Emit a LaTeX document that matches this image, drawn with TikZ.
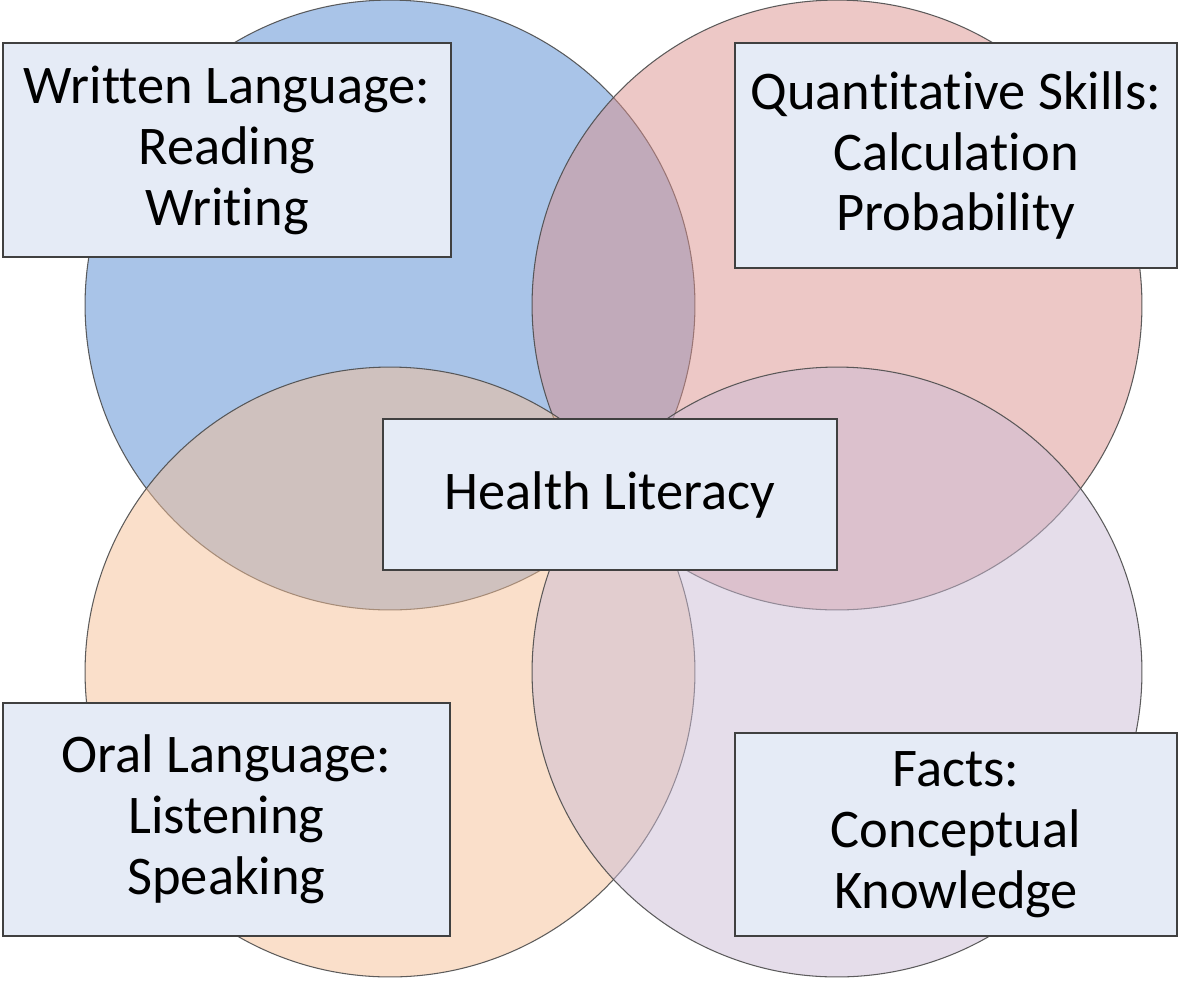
\documentclass[tikz,border=0pt]{standalone}
\usepackage{fontspec}
\setmainfont[Ligatures=NoCommon]{Carlito}

\definecolor{writtenblue}{RGB}{83,137,209}
\definecolor{quantred}{RGB}{219,145,141}
\definecolor{oralorange}{RGB}{245,191,149}
\definecolor{factspurple}{RGB}{203,187,213}
\definecolor{boxfill}{RGB}{229,235,246}

\begin{document}
\begin{tikzpicture}[x=0.02cm,y=-0.02cm,
  ring/.style={draw=black!70,line width=0.6pt,fill opacity=0.5,draw opacity=0.9},
  labelbox/.style={rectangle,draw=black!75,line width=0.85pt,fill=boxfill,inner sep=0pt,
    align=center,font=\fontsize{31}{34.7}\selectfont}]

\useasboundingbox (0,0) rectangle (1182,981);

% the four overlapping circles
\filldraw[ring,fill=writtenblue] (390,305) circle[radius=6.1cm];
\filldraw[ring,fill=quantred] (837,305) circle[radius=6.1cm];
\filldraw[ring,fill=oralorange] (390,672) circle[radius=6.1cm];
\filldraw[ring,fill=factspurple] (837,672) circle[radius=6.1cm];

% labels on top
\node[labelbox,minimum width=8.96cm,minimum height=4.28cm] (written) at (227,150) {Written Language:\\Reading\\Writing};
\node[labelbox,minimum width=8.84cm,minimum height=4.5cm] (quant) at (956,155.5) {Quantitative Skills:\\Calculation\\Probability};
\node[labelbox,minimum width=9.08cm,minimum height=3.02cm] (health) at (610,494.5) {Health Literacy};
\node[labelbox,minimum width=8.94cm,minimum height=4.66cm] (oral) at (226.5,819.5) {Oral Language:\\Listening\\Speaking};
\node[labelbox,minimum width=8.84cm,minimum height=4.06cm] (facts) at (956,834.5) {Facts:\\Conceptual\\Knowledge};
\end{tikzpicture}
\end{document}
